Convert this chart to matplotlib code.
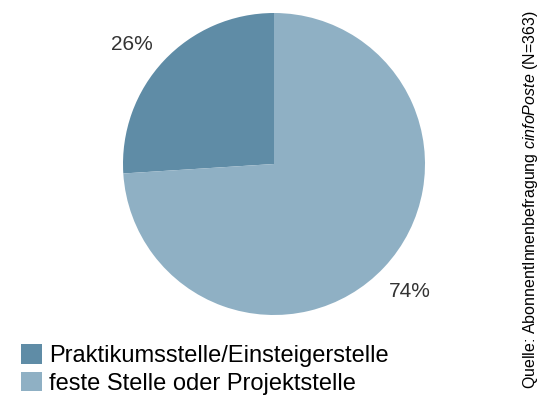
import matplotlib
matplotlib.use('Agg')
import matplotlib.pyplot as plt
import numpy as np

plt.rcParams['font.family'] = ['Liberation Sans', 'DejaVu Sans']
plt.rcParams['mathtext.fontset'] = 'custom'
plt.rcParams['mathtext.rm'] = 'Liberation Sans'
plt.rcParams['mathtext.it'] = 'Liberation Sans:italic'

# Survey result: type of position
categories = ['Praktikumsstelle/Einsteigerstelle', 'feste Stelle oder Projektstelle']
shares = [26, 74]
colors = ['#5f8ca6', '#8fb0c4']
source = 'Quelle: AbonnentInnenbefragung $\\mathit{cinfoPoste}$ (N=363)'

fig = plt.figure(figsize=(5.4, 3.99), dpi=100)

# pie centred at about (274, 164) px with radius 151 px
cx, cy, r = 274, 164, 151
ax = fig.add_axes([(cx - r) / 540, (399 - cy - r) / 399, 2 * r / 540, 2 * r / 399])
wedges, texts, autotexts = ax.pie(
    shares, colors=colors, startangle=90, counterclock=True,
    autopct='%d%%', pctdistance=1.23, radius=1,
    textprops=dict(fontsize=15, color='#333333'),
    wedgeprops=dict(linewidth=0))
# small label slightly rotated away from the wedge middle
ang = np.deg2rad(140)
autotexts[0].set_position((1.23 * np.cos(ang), 1.23 * np.sin(ang)))
ax.set_xlim(-1, 1)
ax.set_ylim(-1, 1)
ax.set_aspect('equal')
ax.axis('off')

fig.legend(wedges, categories, loc='upper left', bbox_to_anchor=(21 / 540, 1 - 344 / 399),
           frameon=False, fontsize=17, handlelength=0.9, handleheight=0.9,
           handletextpad=0.3, labelspacing=0.2, borderpad=0, borderaxespad=0)

fig.text(531 / 540, 1 - 200 / 399, source, rotation=90, fontsize=11.5,
         ha='center', va='center')

fig.savefig('out.png', dpi=100)
